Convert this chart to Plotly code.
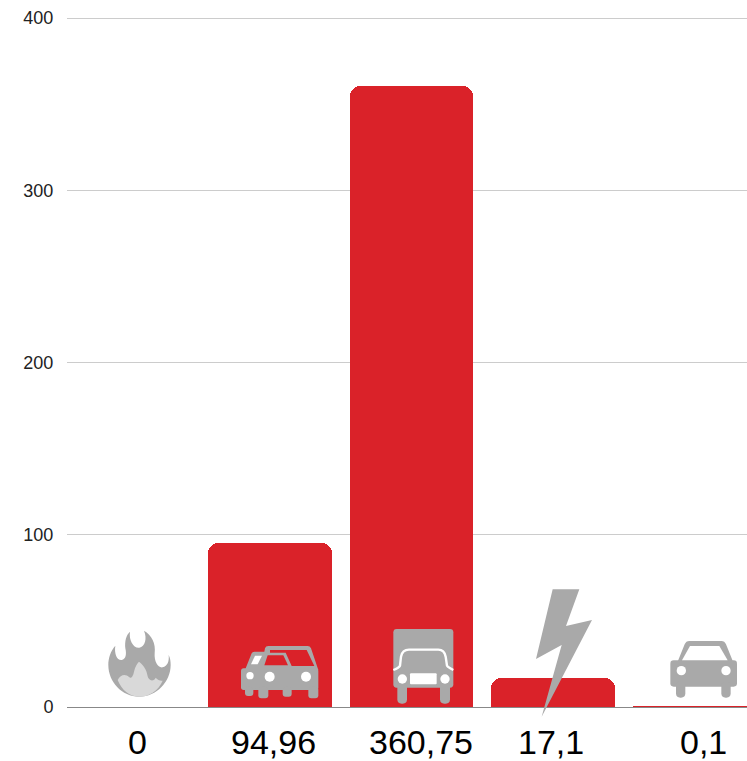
import re
import plotly.graph_objects as go

# ---- data ----
values = [0, 94.96, 360.75, 17.1, 0.1]
value_labels = ["0", "94,96", "360,75", "17,1", "0,1"]
y_ticks = [0, 100, 200, 300, 400]

# ---- layout constants (pixels) ----
W, H = 747, 761
L, R, T, B = 67, 0, 14, 54
PW, PH = W - L - R, H - T - B
Y_SPAN = 689  # pixels between 0 and 400
BAND = 141.5
FIRST_CENTER = 128.5
label_shift = [8.5, 3, 9, -2, 8.5]
RED = "#da2229"
GREY = "#a9a9a9"
LIGHT = "#d9d9d9"


def px(x):
    return (x - L) / PW


def py(y):
    return (T + PH - y) / PH


def poly(path, ox, oy, fill=GREY, line=None, lw=0):
    """Icon outline drawn in 3x zoomed pixel units around origin (ox, oy)."""
    nums = iter(re.findall(r"[A-Za-z]|-?\d+\.?\d*", path))
    out = []
    for tok in nums:
        if tok.isalpha():
            out.append(tok)
        else:
            x = ox + float(tok) / 3
            y = oy + float(next(nums)) / 3
            out.append(f"{px(x):.5f},{py(y):.5f}")
    return dict(type="path", xref="paper", yref="paper", path=" ".join(out),
                fillcolor=fill if fill else "rgba(0,0,0,0)",
                line=dict(width=lw, color=line or "rgba(0,0,0,0)"), layer="above")


def circle(cx, cy, r, ox, oy, fill="white"):
    return dict(type="circle", xref="paper", yref="paper",
                x0=px(ox + (cx - r) / 3), x1=px(ox + (cx + r) / 3),
                y0=py(oy + (cy + r) / 3), y1=py(oy + (cy - r) / 3),
                fillcolor=fill, line=dict(width=0), layer="above")


def rrect(x0, y0, x1, y1, r):
    return (f"M {x0+r} {y0} L {x1-r} {y0} Q {x1} {y0} {x1} {y0+r} L {x1} {y1-r} "
            f"Q {x1} {y1} {x1-r} {y1} L {x0+r} {y1} Q {x0} {y1} {x0} {y1-r} "
            f"L {x0} {y0+r} Q {x0} {y0} {x0+r} {y0} Z")


shapes = []

# flame
o = (90, 580)
shapes.append(poly("M 148 350 C 95 350 55 305 55 255 C 55 235 62 212 76 197 C 72 222 82 242 95 240 "
                   "C 108 238 110 222 106 205 C 104 185 108 165 120 155 C 116 180 130 205 148 203 "
                   "C 165 200 172 175 162 152 C 185 165 198 190 194 220 C 192 245 205 265 218 262 "
                   "C 232 258 238 245 236 225 C 241 235 242 245 242 255 C 242 305 200 350 148 350 Z", *o))
shapes.append(poly("M 83 300 C 92 285 105 280 118 292 C 125 297 130 285 132 275 C 135 260 142 250 147 245 "
                   "C 160 255 170 270 172 285 C 175 305 192 305 197 293 C 203 300 210 303 218 302 "
                   "C 205 332 178 350 148 350 C 118 350 95 330 83 300 Z", *o, fill=LIGHT))

# two cars
o = (235, 640)
shapes.append(poly(rrect(18, 85, 80, 150, 8), *o))
shapes.append(poly(rrect(60, 85, 250, 150, 8), *o))
shapes.append(poly("M 30 90 L 50 40 Q 52 35 58 35 L 88 35 L 90 25 Q 92 18 100 18 L 218 18 Q 225 18 228 25 L 250 90 Z", *o))
for wx0, wx1, wy in [(30, 55, 168), (70, 100, 175), (143, 170, 170), (220, 250, 175)]:
    shapes.append(poly(rrect(wx0, 140, wx1, wy, 9), *o))
shapes.append(poly("M 105 30 L 215 30 L 238 78 L 170 78 L 152 38 L 105 38 Z", *o, fill=RED))
shapes.append(poly("M 98 46 L 145 46 L 159 76 L 88 76 Z", *o, fill=RED))
shapes.append(poly("M 60 47 L 81 47 L 68 73 L 48 73 Z", *o, fill="white"))
shapes.append(circle(45, 107, 11, *o))
shapes.append(circle(104, 110, 15, *o))
shapes.append(circle(213, 110, 15, *o))

# truck
o = (385, 625)
shapes.append(poly(rrect(25, 12, 205, 188, 10), *o))
shapes.append(poly(rrect(37, 170, 66, 236, 13), *o))
shapes.append(poly(rrect(165, 170, 195, 236, 13), *o))
shapes.append(poly("M 25 135 Q 42 128 45 122 L 48 95 Q 52 74 72 74 L 160 74 Q 178 74 182 95 L 186 122 Q 190 128 205 135",
                   *o, fill=None, line="white", lw=2.4))
shapes.append(circle(52, 162, 14, *o))
shapes.append(circle(180, 162, 14, *o))
shapes.append(poly(rrect(75, 145, 155, 178, 3), *o, fill="white"))

# lightning
o = (370, 580)
shapes.append(poly("M 548 28 L 628 28 L 588 138 L 666 120 L 515 410 L 575 195 L 498 237 Z", *o))

# single car
o = (662, 635)
shapes.append(poly("M 45 85 L 68 28 Q 72 18 82 18 L 178 18 Q 188 18 192 28 L 215 85 Z", *o))
shapes.append(poly(rrect(25, 76, 225, 155, 10), *o))
shapes.append(poly(rrect(42, 140, 70, 188, 13), *o))
shapes.append(poly(rrect(178, 140, 206, 188, 13), *o))
shapes.append(poly("M 84 33 L 172 33 L 197 76 L 60 76 Z", *o, fill="white"))
shapes.append(circle(58, 107, 14, *o))
shapes.append(circle(192, 107, 14, *o))

x = list(range(len(values)))
fig = go.Figure(go.Bar(x=x, y=values, width=0.873, marker=dict(color=RED, cornerradius=10, line=dict(width=0)),
                       hoverinfo="skip"))

annotations = [dict(x=i, y=0, xref="x", yref="y", text=t, showarrow=False, xshift=label_shift[i],
                    yanchor="middle", yshift=-35, font=dict(size=34, color="#000", family="Liberation Sans"))
               for i, t in enumerate(value_labels)]

fig.update_layout(
    width=W, height=H, margin=dict(l=L, r=R, t=T, b=B, pad=0), autosize=False,
    paper_bgcolor="white", plot_bgcolor="white", showlegend=False, bargap=0,
    font=dict(family="Liberation Sans", color="#222"),
    shapes=shapes, annotations=annotations,
    xaxis=dict(range=[(L - FIRST_CENTER) / BAND, (W - FIRST_CENTER) / BAND], showgrid=False, zeroline=False,
               showticklabels=False, ticks="", showline=False, fixedrange=True),
    yaxis=dict(range=[0, 400 * PH / Y_SPAN], tickvals=y_ticks, ticktext=[str(v) for v in y_ticks], showgrid=True, gridcolor="#cccccc",
               gridwidth=1, zeroline=True, zerolinecolor="#888888", zerolinewidth=1, showline=False,
               ticks="outside", ticklen=9, tickcolor="rgba(0,0,0,0)", tickfont=dict(size=18, color="#222"), fixedrange=True),
)
fig.write_html("out.html", config=dict(displayModeBar=False),
               post_script="document.body.style.margin='0';document.documentElement.style.overflow='hidden';")
